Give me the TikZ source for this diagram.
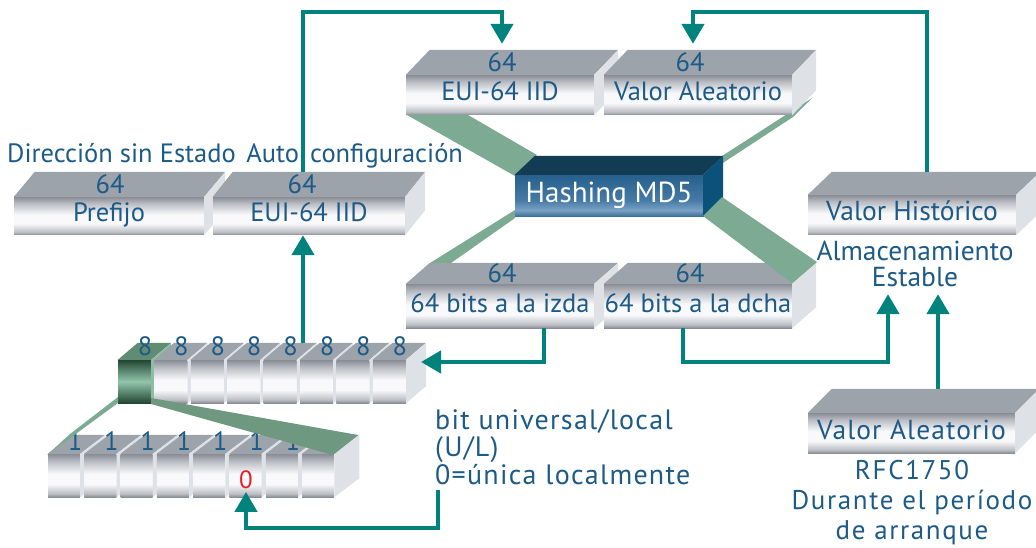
\documentclass[tikz,border=0pt]{standalone}
\usepackage{fontspec}
\setmainfont{PT Sans}
\usetikzlibrary{arrows.meta}

\definecolor{txtblue}{RGB}{28,90,135}
\definecolor{flowteal}{RGB}{0,130,125}
\definecolor{topgrey}{RGB}{156,163,170}
\definecolor{sidegrey}{RGB}{222,225,230}
\definecolor{bandgreen}{RGB}{124,170,146}
\definecolor{banddark}{RGB}{110,153,128}
\definecolor{hashtop}{RGB}{18,60,84}
\definecolor{hashside}{RGB}{10,82,122}
\definecolor{gtop}{RGB}{95,140,115}
\definecolor{gside}{RGB}{140,190,165}
\definecolor{fA}{RGB}{138,141,149}
\definecolor{fB}{RGB}{188,191,197}
\definecolor{fW}{RGB}{249,249,251}
\definecolor{hA}{RGB}{52,105,148}
\definecolor{hL}{RGB}{122,162,196}
\definecolor{hM}{RGB}{70,122,165}
\definecolor{hT}{RGB}{38,96,140}
\definecolor{gD}{RGB}{35,70,52}
\definecolor{gL}{RGB}{145,198,170}
\definecolor{zerored}{RGB}{230,30,40}

% front faces of the blocks: light band across the lower middle
\pgfdeclareverticalshading{greyfront}{100bp}{color(0bp)=(fA); color(25bp)=(fA); color(29bp)=(fB); color(40bp)=(fW); color(52bp)=(fW); color(66bp)=(fB); color(75bp)=(fA); color(100bp)=(fA)}
\pgfdeclareverticalshading{hashfront}{100bp}{color(0bp)=(hA); color(25bp)=(hA); color(33bp)=(hL); color(45bp)=(hM); color(75bp)=(hT); color(100bp)=(hT)}
\pgfdeclareverticalshading{greencell}{100bp}{color(0bp)=(gD); color(25bp)=(gD); color(50bp)=(gL); color(75bp)=(gD); color(100bp)=(gD)}

\newcommand\fsz[1]{\fontsize{#1}{#1}\selectfont}
% top and right faces of a block whose front face is node #1, depth (#2,#3)
\newcommand\cubefaces[5]{%
  \fill[#4] (#1.north west) -- ++(#2,#3) -- ([shift={(#2,#3)}]#1.north east) -- (#1.north east) -- cycle;
  \fill[#5] (#1.north east) -- ++(#2,#3) -- ([shift={(#2,#3)}]#1.south east) -- (#1.south east) -- cycle;}

\begin{document}
\begin{tikzpicture}[x=1pt,y=-1pt,
  txt/.style={text=txtblue, font=\fsz{26.5}, inner sep=0pt, text height=18.5pt, text depth=0pt},
  para/.style={text=txtblue, inner sep=0pt},
  front/.style={shading=greyfront, inner sep=0pt, text=txtblue, font=\fsz{26.5}, text height=18.5pt, text depth=6.5pt},
  hashbox/.style={shading=hashfront, inner sep=0pt, text=white, font=\fsz{29}, text height=20pt, text depth=7pt},
  cell/.style={shading=greyfront, inner sep=0pt, minimum width=33pt, minimum height=43pt},
  lowcell/.style={shading=greyfront, inner sep=0pt, minimum width=32pt, minimum height=43pt},
  flow/.style={draw=flowteal, line width=4.5pt, line join=miter, -{Triangle[length=20pt,width=22pt]}},
  band/.style={fill=bandgreen},
  darkband/.style={fill=banddark}]

\useasboundingbox (0,0) rectangle (1036,548);

% ribbons running behind the blocks
\fill[band] (407,115) -- (468,115) -- (537,155) -- (515,176) -- cycle;
\fill[band] (703,176) -- (722,156) -- (812,98) -- (793,117) -- cycle;
\fill[band] (515,210) -- (515,218) -- (451,263) -- (430,263) -- cycle;

% upper row
\node[front, minimum width=188pt, minimum height=40pt] (euiT) at (500,95) {EUI-64 IID};
\cubefaces{euiT}{24}{-25}{topgrey}{sidegrey}
\node[front, minimum width=188pt, minimum height=40pt] (valT) at (698,95) {Valor Aleatorio};
\cubefaces{valT}{24}{-25}{topgrey}{sidegrey}
\node[txt] (l64a) at (502,62) {64};
\node[txt] (l64b) at (690,62) {64};

% stateless address
\node[front, minimum width=190pt, minimum height=38pt] (pref) at (109,216) {Prefijo};
\cubefaces{pref}{21}{-25}{topgrey}{sidegrey}
\node[front, minimum width=192pt, minimum height=38pt] (euiL) at (309,216) {EUI-64 IID};
\cubefaces{euiL}{20}{-25}{topgrey}{sidegrey}
\node[txt] (l64c) at (110,184) {64};
\node[txt] (l64d) at (302,184) {64};
\node[txt, anchor=west] (dir) at (7,153) {Dirección sin Estado\hspace{0.4em}Auto\hspace{0.42em}configuración};

% hash
\node[hashbox, minimum width=188pt, minimum height=42pt] (hash) at (609,196) {Hashing MD5};
\cubefaces{hash}{20}{-19}{hashtop}{hashside}

% halves of the digest
\node[front, minimum width=188pt, minimum height=44pt] (izda) at (500,306) {64 bits a la izda};
\cubefaces{izda}{24}{-21}{topgrey}{sidegrey}
\node[front, minimum width=188pt, minimum height=44pt] (dcha) at (698,306) {64 bits a la dcha};
\cubefaces{dcha}{24}{-21}{topgrey}{sidegrey}
\node[txt] (l64e) at (502,273) {64};
\node[txt] (l64f) at (690,273) {64};
\fill[band] (703,216) -- (722,197) -- (817,262) -- (792,283) -- cycle;

% stored value
\node[front, minimum width=208pt, minimum height=40pt, font=\fsz{27.5}] (hist) at (912,215) {Valor Histórico};
\cubefaces{hist}{24}{-23}{topgrey}{sidegrey}
\node[para, align=center, font=\fsz{27.5}] (alm) at (915,264) {Almacenamiento\\[-1.5pt]Estable};

% random seed
\node[front, minimum width=207pt, minimum height=40pt, font=\fsz{27.5}\addfontfeatures{LetterSpace=4}] (alea) at (911.5,433) {Valor Aleatorio};
\cubefaces{alea}{24}{-24}{topgrey}{sidegrey}
\node[para, align=center, font=\fsz{27}\addfontfeatures{LetterSpace=6}] (rfc) at (912,503) {RFC1750\\[3pt]Durante el período\\[3pt]de arranque};

% eight bytes
\node[shading=greencell, inner sep=0pt, minimum width=33pt, minimum height=43pt] (t0) at (134.5,381.5) {};
\cubefaces{t0}{20}{-17}{gtop}{gside}
\foreach \i in {1,...,7}{
  \node[cell] (t\i) at ({134.5+36.4*\i},381.5) {};
  \cubefaces{t\i}{20}{-17}{topgrey}{sidegrey}
}
\foreach \i in {0,...,7}{
  \node[txt] (e\i) at ({145+36.4*\i},346) {8};
}

% eight bits of the first byte
\foreach \i in {0,...,7}{
  \node[lowcell] (b\i) at ({64+36.3*\i},475.5) {};
  \cubefaces{b\i}{25}{-19}{topgrey}{sidegrey}
}
\foreach \i in {0,...,6}{
  \node[txt] (o\i) at ({75+36.3*\i},441) {1};
}
\node[txt, text=zerored, font=\fsz{25}, text height=17.5pt] (zero) at (246,480) {0};

% expansion of the first byte
\fill[band] (118,397) -- (70,434) -- (47,455) -- (118,403) -- cycle;
\fill[darkband] (151,398) -- (358,435) -- (333,455) -- (151,404) -- cycle;

\node[para, anchor=north west, align=left, font=\fsz{28}\addfontfeatures{LetterSpace=4.5}] (ul) at (435,409) {bit universal/local\\[-0.5pt](U/L)\\[-0.5pt]0=única localmente};

% connectors
\coordinate (topY) at (0,12);
\coordinate (up1) at (303,343);
\draw[flow] (up1) -- (up1 |- euiL.south);
\coordinate (a1) at ([shift={(-6,-25)}]euiL.north);
\coordinate (a1e) at ([shift={(2,-31)}]euiT.north);
\draw[flow] (a1) |- (a1e |- topY) -- (a1e);
\coordinate (a2) at ([shift={(15,-23)}]hist.north);
\coordinate (a2e) at ([shift={(-5,-31)}]valT.north);
\draw[flow] (a2) |- (a2e |- topY) -- (a2e);
\coordinate (a3) at ([xshift=44pt]izda.south);
\coordinate (rowR) at ([shift={(15,-19.5)}]t7.east);
\draw[flow] (a3) |- (rowR);
\coordinate (a4) at ([xshift=-15pt]dcha.south);
\coordinate (almL) at (alm.south -| 888,0);
\draw[flow] (a4) -- (a4 |- rowR) -| ([yshift=-7pt]almL);
\coordinate (a5) at ([shift={(26.5,-24)}]alea.north);
\draw[flow] (a5) -- ([yshift=-7pt]a5 |- almL);
\coordinate (a6) at ([xshift=3pt,yshift=-5pt]ul.south west);
\coordinate (botY) at (0,528);
\coordinate (zs) at ([yshift=-3pt]zero.south);
\draw[flow] (a6) -- (a6 |- botY) -| (zs);
\end{tikzpicture}
\end{document}
